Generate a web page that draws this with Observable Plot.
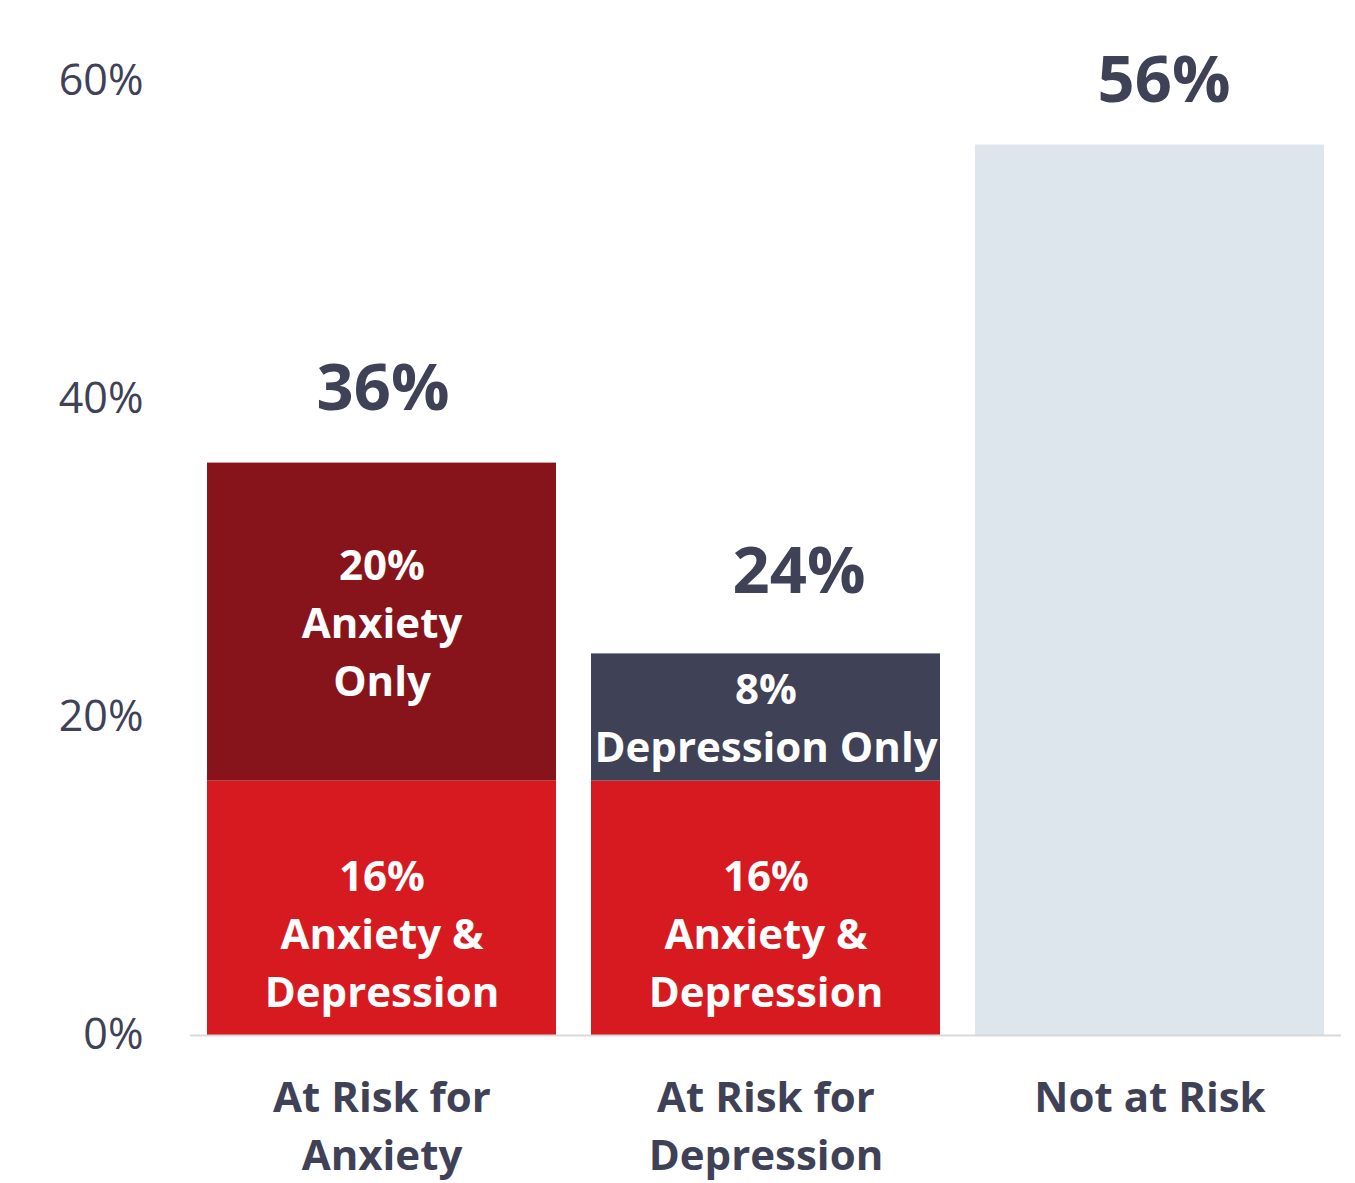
<!DOCTYPE html>
<html><head><meta charset="utf-8">
<script src="https://cdn.jsdelivr.net/npm/d3@7"></script>
<script src="https://cdn.jsdelivr.net/npm/@observablehq/plot@0.6"></script>
<style>body{margin:0;background:#fff} #chart svg{display:block}</style>
</head><body><div id="chart"></div>
<script>
const categories = ["At Risk for\nAnxiety", "At Risk for\nDepression", "Not at Risk"];
const segmentCategory = [0, 0, 1, 1, 2];
const segmentNames = ["Anxiety & Depression", "Anxiety Only", "Anxiety & Depression", "Depression Only", "Not at Risk"];
const segmentValues = [16, 20, 16, 8, 56];
const segmentLabels = ["16%\nAnxiety &\nDepression", "20%\nAnxiety\nOnly", "16%\nAnxiety &\nDepression", "8%\nDepression Only", ""];
const totals = [36, 24, 56];
const totalLabels = ["36%", "24%", "56%"];
const yTicks = [0, 20, 40, 60];
const segmentDomain = ["Anxiety & Depression", "Anxiety Only", "Depression Only", "Not at Risk"];
const segmentColors = ["#d71920", "#87141b", "#3f4156", "#dde5ed"];

const rows = segmentValues.map((v, i) => ({
  category: categories[segmentCategory[i]],
  segment: segmentNames[i],
  value: v,
  label: segmentLabels[i],
  bottom: i === 0 || i === 2
}));
const totalRows = totals.map((v, i) => ({category: categories[i], value: v, label: totalLabels[i]}));

const ink = "#3f4156";
const totalOffsets = [[1, -53], [33, -61], [14, -43]];

const chart = Plot.plot({
  width: 1355,
  height: 1183,
  marginLeft: 190,
  marginRight: 14,
  marginTop: 81,
  marginBottom: 148,
  style: {fontFamily: "'Open Sans', sans-serif", background: "#fff"},
  x: {domain: categories, paddingInner: 0.09, paddingOuter: 0.0416, label: null},
  y: {domain: [0, 60], label: null},
  color: {domain: segmentDomain, range: segmentColors, legend: false},
  marks: [
    Plot.barY(rows, Plot.stackY({x: "category", y: "value", fill: "segment", order: null})),
    Plot.ruleY([0], {stroke: "#d9d9d9", strokeWidth: 2}),
    Plot.text(rows, Plot.stackY({x: "category", y: "value", order: null,
      text: d => (d.bottom || !d.label) ? null : d.label,
      fill: "white", fontSize: 42, fontWeight: "bold", lineHeight: 1.38, dy: -3})),
    Plot.text(rows, Plot.stackY({x: "category", y: "value", order: null,
      text: d => d.bottom ? d.label : null,
      fill: "white", fontSize: 42, fontWeight: "bold", lineHeight: 1.38, dy: 22})),
    ...totalRows.map((r, i) => Plot.text([r], {x: "category", y: "value", text: "label",
      fill: ink, fontSize: 65, fontWeight: "bold", lineAnchor: "bottom",
      dx: totalOffsets[i][0], dy: totalOffsets[i][1]})),
    Plot.axisY({ticks: yTicks, tickFormat: d => d + "%", tickSize: 0, tickPadding: 47,
      fontSize: 43, fill: ink}),
    Plot.axisX({tickSize: 0, tickPadding: 35, fontSize: 42, fontWeight: "bold", fill: ink,
      lineHeight: 1.38})
  ]
});
document.getElementById("chart").appendChild(chart);
</script>
</body></html>
